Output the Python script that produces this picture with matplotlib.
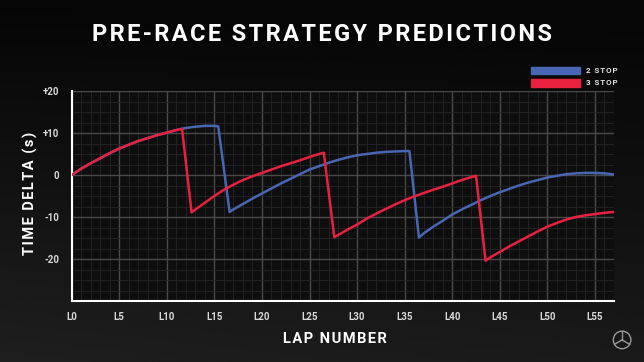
import matplotlib
matplotlib.use("Agg")
import matplotlib.pyplot as plt
import numpy as np
from matplotlib.patches import Circle, Rectangle

# lap positions / time delta (s)
two_stop_laps = [0, 1, 2, 3, 4, 5, 6, 7, 8, 9, 10, 11, 11.6, 12, 13, 14, 15, 15.4,
                 16.6, 17, 18, 19, 20, 21, 22, 23, 24, 25, 26, 27, 28, 29, 30, 31,
                 32, 33, 34, 35, 35.5,
                 36.5, 37, 38, 39, 40, 41, 42, 43, 44, 45, 46, 47, 48, 49, 50, 51,
                 52, 53, 54, 55, 56, 57]
two_stop_delta = [0, 1.5, 2.8, 4.0, 5.2, 6.3, 7.2, 8.1, 8.8, 9.5, 10.1, 10.7, 11.0,
                  11.2, 11.5, 11.7, 11.7, 11.6,
                  -8.8, -8.2, -6.9, -5.6, -4.4, -3.2, -2.0, -0.9, 0.2, 1.3, 2.1,
                  2.9, 3.6, 4.2, 4.7, 5.0, 5.3, 5.5, 5.6, 5.7, 5.7,
                  -14.9, -13.9, -12.3, -10.9, -9.4, -8.2, -7.1, -6.0, -5.0, -4.1,
                  -3.3, -2.5, -1.8, -1.2, -0.6, -0.2, 0.2, 0.4, 0.5, 0.5, 0.4, 0.1]

three_stop_laps = [0, 1, 2, 3, 4, 5, 6, 7, 8, 9, 10, 11, 11.6,
                   12.6, 13, 14, 15, 16, 17, 18, 19, 20, 21, 22, 23, 24, 25, 26, 26.5,
                   27.6, 28, 29, 30, 31, 32, 33, 34, 35, 36, 37, 38, 39, 40, 41, 42,
                   42.5,
                   43.5, 44, 45, 46, 47, 48, 49, 50, 51, 52, 53, 54, 55, 56, 57]
three_stop_delta = [0, 1.5, 2.8, 4.0, 5.2, 6.3, 7.2, 8.1, 8.8, 9.5, 10.1, 10.7, 11.0,
                    -8.9, -8.2, -6.6, -5.0, -3.5, -2.3, -1.2, -0.3, 0.5, 1.3, 2.1,
                    2.8, 3.5, 4.3, 5.0, 5.3,
                    -14.8, -14.3, -13.0, -11.8, -10.4, -9.2, -8.1, -7.0, -6.0, -5.1,
                    -4.3, -3.5, -2.8, -2.0, -1.2, -0.5, -0.2,
                    -20.4, -19.6, -18.3, -17.0, -15.8, -14.6, -13.4, -12.3, -11.4,
                    -10.6, -10.0, -9.6, -9.3, -9.0, -8.8]

lap_ticks = list(range(0, 56, 5))
lap_labels = ['L%d' % t for t in lap_ticks]
delta_ticks = [-20, -10, 0, 10, 20]
delta_labels = ['-20', '-10', '0', '+10', '+20']

BLUE = '#4766b4'
RED = '#e8213f'
FONT = ['Roboto', 'DejaVu Sans']


def spaced(s):
    # a bit of letter spacing, like the original artwork
    return '\u200a'.join(s)


fig = plt.figure(figsize=(6.44, 3.62), dpi=100)

# background gradient (dark top, lighter lower-left)
bg = fig.add_axes([0, 0, 1, 1])
yy, xx = np.mgrid[0:1:200j, 0:1:300j]
shade = np.clip(0.02 + 0.08 * yy + 0.02 * (1 - xx) * yy, 0, 1)
bg.imshow(shade, cmap='gray', vmin=0, vmax=1, aspect='auto',
          extent=[0, 1, 0, 1], origin='upper')
bg.set_axis_off()

ax = fig.add_axes([0.1113, 0.1685, 0.8421, 0.5801])
ax.set_facecolor('#0e0e0f')

ax.plot(two_stop_laps, two_stop_delta, color=BLUE, lw=1.8, zorder=3)
ax.plot(three_stop_laps, three_stop_delta, color=RED, lw=1.8, zorder=4)

ax.set_xlim(0, 57)
ax.set_ylim(-30, 20)
ax.set_xticks(lap_ticks)
ax.set_xticklabels(lap_labels)
ax.set_yticks(delta_ticks)
ax.set_yticklabels(delta_labels)
ax.set_xticks(np.arange(0, 57, 1), minor=True)
ax.set_yticks(np.arange(-30, 20.1, 2.5), minor=True)
ax.grid(which='major', color='#4a4a4a', lw=1.0)
ax.grid(which='minor', color='#252525', lw=0.6)
ax.set_axisbelow(True)
ax.tick_params(which='both', length=0)
ax.tick_params(axis='x', pad=8)
ax.tick_params(axis='y', pad=9)
for lab in ax.get_xticklabels() + ax.get_yticklabels():
    lab.set_fontfamily(FONT)
    lab.set_fontweight('bold')
    lab.set_fontsize(7)
    lab.set_color('#d8d8d8')

for side in ['top', 'right']:
    ax.spines[side].set_visible(False)
for side in ['left', 'bottom']:
    ax.spines[side].set_color('white')
    ax.spines[side].set_linewidth(1.5)

fig.text(0.5, 0.905, spaced('PRE-RACE STRATEGY PREDICTIONS'), ha='center',
         va='center', color='white', fontsize=17, fontweight='bold', family=FONT)
fig.text(0.047, 0.467, spaced('TIME DELTA (s)'), rotation=90, ha='center',
         va='center', color='white', fontsize=10.5, fontweight='bold',
         family=FONT)
fig.text(0.52, 0.063, spaced('LAP NUMBER'), ha='center', va='center',
         color='white', fontsize=10.5, fontweight='bold', family=FONT)

# legend boxes
for i, (col, name) in enumerate([(BLUE, '2 STOP'), (RED, '3 STOP')]):
    y = 0.795 - i * 0.034
    fig.patches.append(Rectangle((0.8245, y), 0.076, 0.021, color=col,
                                 transform=fig.transFigure, figure=fig))
    fig.text(0.91, y + 0.0105, spaced(name), color='#e0e0e0', fontsize=5.8,
             fontweight='bold', family=FONT, va='center', ha='left')

# small star-in-circle emblem bottom right
lg = fig.add_axes([0.951, 0.034, 0.03, 0.054])
lg.set_xlim(-1.1, 1.1)
lg.set_ylim(-1.1, 1.1)
lg.set_aspect('equal')
lg.add_patch(Circle((0, 0), 1, fill=False, color='#9a9a9a', lw=1.0))
for ang in [90, 210, 330]:
    a = np.deg2rad(ang)
    lg.plot([0, np.cos(a)], [0, np.sin(a)], color='#9a9a9a', lw=1.0)
lg.set_axis_off()

fig.savefig('out.png', dpi=100, facecolor='black')
